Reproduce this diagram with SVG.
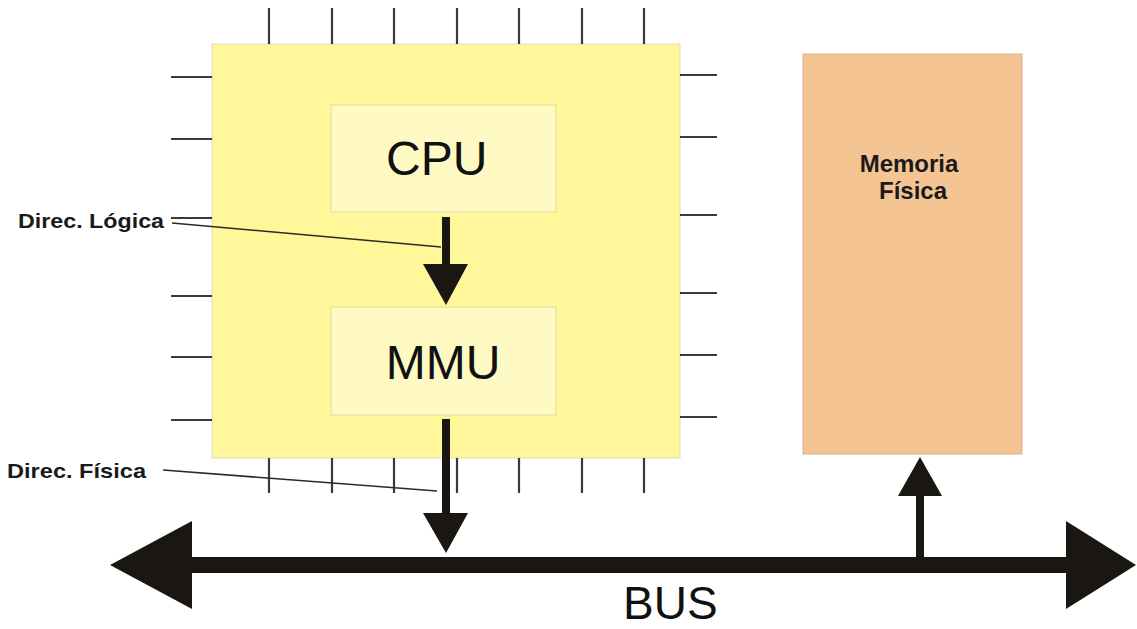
<svg xmlns="http://www.w3.org/2000/svg" width="1137" height="629" viewBox="0 0 1137 629">
<style>
.pin{stroke:#3a3a3a;stroke-width:2.2;fill:none}
.lead{stroke:#2a2a2a;stroke-width:1.6;fill:none}
.arr{fill:#1a1612;stroke:none}
.big{font-family:"Liberation Sans",Arial,sans-serif;fill:#111}
.lbl{font-family:"Liberation Sans",Arial,sans-serif;font-weight:bold;fill:#1a1a1a}
</style>
<rect width="1137" height="629" fill="#ffffff"/>
<g id="chip">
<rect x="212" y="44" width="468" height="414" fill="#FFF799" stroke="#DCDCC0" stroke-width="1"/>
<g class="pin">
<path d="M269 8V44M332 8V44M394 8V44M457 8V44M519 8V44M582 8V44M644 8V44"/>
<path d="M269 458V493M332 458V493M394 458V493M457 458V493M519 458V493M582 458V493M644 458V493"/>
<path d="M171 77H212M171 139H212M171 218H212M171 296H212M171 357H212M171 420H212"/>
<path d="M680 75H717M680 137H717M680 215H717M680 293H717M680 355H717M680 417H717"/>
</g>
</g>
<g id="cpu">
<rect x="331" y="105" width="225" height="107" fill="#FFFAC4" stroke="#E4DB9C" stroke-width="1"/>
<text class="big" x="386" y="175" font-size="48">CPU</text>
</g>
<g id="mmu">
<rect x="331" y="307" width="225" height="108" fill="#FFFAC4" stroke="#E4DB9C" stroke-width="1"/>
<text class="big" x="443" y="379" font-size="48" text-anchor="middle">MMU</text>
</g>
<g id="memoria">
<rect x="803" y="54" width="219" height="400" fill="#F4C592" stroke="#D9B48A" stroke-width="1"/>
<text class="lbl" x="909" y="172" font-size="24" text-anchor="middle">Memoria</text>
<text class="lbl" x="913" y="199" font-size="24" text-anchor="middle">Física</text>
</g>
<g id="bus">
<rect class="arr" x="190" y="557" width="878" height="16"/>
<polygon class="arr" points="110,565 192,521 192,609"/>
<polygon class="arr" points="1066,521 1136,565 1066,609"/>
<text class="big" x="623" y="619" font-size="46">BUS</text>
</g>
<g id="labels">
<text class="lbl" x="18" y="228" font-size="21" textLength="146" lengthAdjust="spacingAndGlyphs">Direc. Lógica</text>
<text class="lbl" x="7" y="478" font-size="21" textLength="139" lengthAdjust="spacingAndGlyphs">Direc. Física</text>
</g>
<g id="connectors">
<rect class="arr" x="442" y="217" width="8" height="48"/>
<polygon class="arr" points="423,264 468,264 446,305"/>
<rect class="arr" x="442" y="419" width="8" height="95"/>
<polygon class="arr" points="423,513 468,513 446,553"/>
<rect class="arr" x="916" y="495" width="8" height="63"/>
<polygon class="arr" points="898,496 942,496 920,457"/>
<path class="lead" d="M172 223L441 247"/>
<path class="lead" d="M163 470L437 491"/>
</g>
</svg>
